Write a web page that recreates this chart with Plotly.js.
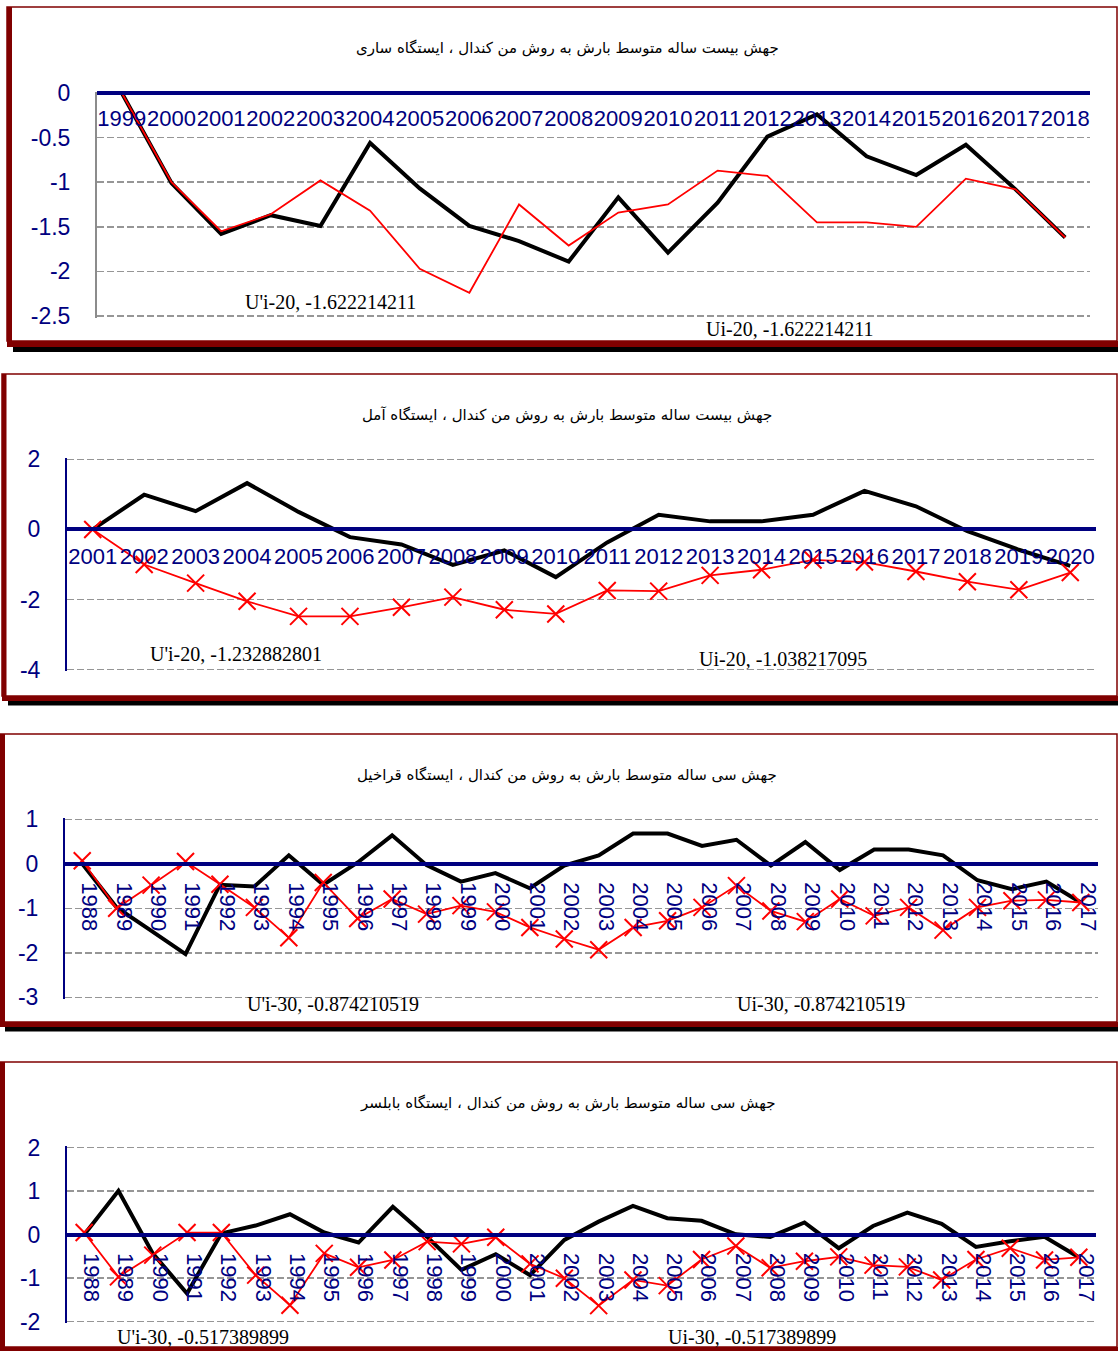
<!DOCTYPE html>
<html>
<head>
<meta charset="utf-8">
<script src="https://cdn.plot.ly/plotly-3.0.1.min.js"></script>
<style>html,body{margin:0;padding:0;background:#fff;}#chart{width:1118px;height:1351px;}</style>
</head>
<body>
<div id="chart"></div>
<script>
// ---------- DATA ----------
const titleSari = "جهش بیست ساله متوسط بارش به روش من کندال ، ایستگاه ساری";
const titleAmol = "جهش بیست ساله متوسط بارش به روش من کندال ، ایستگاه آمل";
const titleGharakheil = "جهش سی ساله متوسط بارش به روش من کندال ، ایستگاه قراخیل";
const titleBabolsar = "جهش سی ساله متوسط بارش به روش من کندال ، ایستگاه بابلسر";

const yearsSari = ["1999","2000","2001","2002","2003","2004","2005","2006","2007","2008","2009","2010","2011","2012","2013","2014","2015","2016","2017","2018"];
const sariUi = [0, -1.01, -1.58, -1.37, -1.49, -0.56, -1.07, -1.49, -1.66, -1.89, -1.17, -1.79, -1.23, -0.49, -0.24, -0.71, -0.92, -0.58, -1.08, -1.62];
const sariUpi = [0, -1.0, -1.55, -1.36, -0.98, -1.32, -1.97, -2.24, -1.25, -1.71, -1.34, -1.25, -0.87, -0.93, -1.45, -1.45, -1.50, -0.96, -1.08, -1.62];
const sariLabels = ["U'i-20, -1.622214211", "Ui-20, -1.622214211"];
const sariTickVals = [0, -0.5, -1, -1.5, -2, -2.5];
const sariTickText = ["0", "-0.5", "-1", "-1.5", "-2", "-2.5"];

const yearsAmol = ["2001","2002","2003","2004","2005","2006","2007","2008","2009","2010","2011","2012","2013","2014","2015","2016","2017","2018","2019","2020"];
const amolUi = [0, 0.99, 0.52, 1.32, 0.50, -0.22, -0.43, -1.01, -0.60, -1.36, -0.37, 0.42, 0.23, 0.23, 0.42, 1.10, 0.66, -0.05, -0.58, -1.04];
const amolUpi = [0, -1.0, -1.53, -2.05, -2.48, -2.48, -2.22, -1.93, -2.29, -2.41, -1.74, -1.76, -1.31, -1.15, -0.87, -0.93, -1.20, -1.49, -1.72, -1.23];
const amolLabels = ["U'i-20, -1.232882801", "Ui-20, -1.038217095"];
const amolTickVals = [2, 0, -2, -4];
const amolTickText = ["2", "0", "-2", "-4"];

const years30 = ["1988","1989","1990","1991","1992","1993","1994","1995","1996","1997","1998","1999","2000","2001","2002","2003","2004","2005","2006","2007","2008","2009","2010","2011","2012","2013","2014","2015","2016","2017"];
const gharUi = [0, -0.98, -1.5, -2.03, -0.47, -0.51, 0.19, -0.47, 0.03, 0.64, -0.03, -0.40, -0.21, -0.55, -0.04, 0.19, 0.68, 0.68, 0.40, 0.54, -0.04, 0.49, -0.14, 0.32, 0.32, 0.19, -0.37, -0.57, -0.40, -0.87];
const gharUpi = [0.07, -1.0, -0.48, 0.05, -0.46, -0.98, -1.66, -0.42, -1.23, -0.79, -1.13, -0.94, -1.08, -1.43, -1.69, -1.93, -1.43, -1.28, -0.98, -0.49, -1.06, -1.30, -0.79, -1.17, -0.98, -1.49, -0.98, -0.83, -0.81, -0.87];
const gharLabels = ["U'i-30, -0.874210519", "Ui-30, -0.874210519"];
const gharTickVals = [1, 0, -1, -2, -3];
const gharTickText = ["1", "0", "-1", "-2", "-3"];

const babUi = [0, 1.01, -0.43, -1.35, 0.03, 0.21, 0.47, 0.05, -0.18, 0.64, -0.05, -0.81, -0.45, -0.93, -0.12, 0.30, 0.66, 0.38, 0.32, 0.01, -0.05, 0.28, -0.31, 0.20, 0.51, 0.25, -0.28, -0.15, -0.05, -0.52];
const babUpi = [0.05, -0.97, -0.47, 0.05, 0.05, -0.93, -1.62, -0.43, -0.75, -0.58, -0.16, -0.21, -0.06, -0.67, -1.0, -1.63, -1.04, -1.17, -0.57, -0.26, -0.76, -0.61, -0.51, -0.70, -0.74, -1.04, -0.57, -0.31, -0.58, -0.52];
const babLabels = ["U'i-30, -0.517389899", "Ui-30, -0.517389899"];
const babTickVals = [2, 1, 0, -1, -2];
const babTickText = ["2", "1", "0", "-1", "-2"];

// ---------- LAYOUT ----------
const W = 1118, H = 1351;
const px = x => x / W;
const py = y => 1 - y / H;
const NAVY = "#000080", DRED = "#800000";

const panels = [
  {title: titleSari, cats: yearsSari, ui: sariUi, upi: sariUpi, labels: sariLabels, tv: sariTickVals, tt: sariTickText,
   x0: 97, x1: 1090, yTop: 93, yBot: 316, range: [-2.5, 0], angle: 0, markers: false, xStand: 5, xShift: 0,
   yLineColor: "#8c8c8c", titleY: 48, lab1: [330, 302], lab2: [790, 329],
   frame: {l: 7, r: 1117, t: 7, b: 341, lw: 5, bw: 6, sh: 5, shx: 13}},
  {title: titleAmol, cats: yearsAmol, ui: amolUi, upi: amolUpi, labels: amolLabels, tv: amolTickVals, tt: amolTickText,
   x0: 67, x1: 1096, yTop: 459.3, yBot: 669.7, range: [-4, 2], angle: 0, markers: true, xStand: 6, xShift: 0,
   yLineColor: NAVY, titleY: 415, lab1: [236, 654], lab2: [783, 659],
   frame: {l: 2, r: 1117, t: 374, b: 696, lw: 4.5, bw: 5, sh: 4.5, shx: 8}},
  {title: titleGharakheil, cats: years30, ui: gharUi, upi: gharUpi, labels: gharLabels, tv: gharTickVals, tt: gharTickText,
   x0: 65, x1: 1098, yTop: 819.3, yBot: 997.3, range: [-3, 1], angle: 90, markers: true, xStand: 12, xShift: 7,
   yLineColor: NAVY, titleY: 775, lab1: [333, 1004], lab2: [821, 1004],
   frame: {l: 0, r: 1117, t: 734, b: 1022, lw: 5, bw: 5, sh: 4.5, shx: 5}},
  {title: titleBabolsar, cats: years30, ui: babUi, upi: babUpi, labels: babLabels, tv: babTickVals, tt: babTickText,
   x0: 67, x1: 1096, yTop: 1147.7, yBot: 1321.7, range: [-2, 2], angle: 90, markers: true, xStand: 12, xShift: 7,
   yLineColor: NAVY, titleY: 1103, lab1: [203, 1337], lab2: [752, 1337],
   frame: {l: 0, r: 1117, t: 1062, b: 1347, lw: 5, bw: 5, sh: 0, shx: 5}}
];

const traces = [];
const layout = {
  width: W, height: H, margin: {l: 0, r: 0, t: 0, b: 0},
  paper_bgcolor: "#ffffff", plot_bgcolor: "#ffffff",
  showlegend: false, hovermode: false,
  annotations: [], shapes: []
};

panels.forEach((p, i) => {
  const n = i + 1;
  const xa = n === 1 ? "x" : "x" + n;
  const ya = n === 1 ? "y" : "y" + n;
  const xk = n === 1 ? "xaxis" : "xaxis" + n;
  const yk = n === 1 ? "yaxis" : "yaxis" + n;
  // pad the range by ~1.5px so the edge grid lines are drawn
  const span = p.range[1] - p.range[0];
  const eps = span / (p.yBot - p.yTop) * 1.5;
  const r0 = p.range[0] - eps, r1 = p.range[1] + eps;
  const yTopPx = p.yTop - 1.5, yBotPx = p.yBot + 1.5;
  const d0 = py(yBotPx), d1 = py(yTopPx);
  const zeroPos = d0 + (0 - r0) / (r1 - r0) * (d1 - d0);

  traces.push({type: "scatter", mode: "lines", x: p.cats, y: p.ui, xaxis: xa, yaxis: ya,
    line: {color: "#000000", width: 4}, cliponaxis: false});
  traces.push({type: "scatter", mode: p.markers ? "lines+markers" : "lines", x: p.cats, y: p.upi, xaxis: xa, yaxis: ya,
    line: {color: "#ff0000", width: 1.8},
    marker: {symbol: "x-thin", size: 17, line: {color: "#ff0000", width: 2}, color: "#ff0000"},
    cliponaxis: false});

  layout[xk] = {
    domain: [px(p.x0), px(p.x1)], anchor: "free", position: zeroPos,
    type: "category", range: [-0.5, p.cats.length - 0.5],
    tickmode: "linear", tick0: 0, dtick: 1,
    showline: true, linecolor: NAVY, linewidth: 4,
    showgrid: false, zeroline: false, ticks: "",
    tickangle: p.angle, ticklabelstandoff: p.xStand, ticklabelshift: p.xShift,
    tickfont: {family: "Liberation Sans, Arial, sans-serif", size: 22, color: NAVY},
    fixedrange: true, automargin: false
  };
  layout[yk] = {
    domain: [d0, d1], anchor: xa, range: [r0, r1],
    tickmode: "array", tickvals: p.tv, ticktext: p.tt,
    showline: true, linecolor: p.yLineColor, linewidth: 2,
    showgrid: true, gridcolor: "#969696", gridwidth: 1.5, griddash: "7px,3px",
    zeroline: false, ticks: "", ticklabelstandoff: 20,
    tickfont: {family: "Liberation Sans, Arial, sans-serif", size: 23, color: NAVY},
    fixedrange: true, automargin: false
  };

  layout.annotations.push({xref: "paper", yref: "paper", x: 0.5075, y: py(p.titleY),
    xanchor: "center", yanchor: "middle", showarrow: false, text: p.title,
    font: {family: "DejaVu Sans, Noto Sans, sans-serif", size: 15, color: "#000"}});
  layout.annotations.push({xref: "paper", yref: "paper", x: px(p.lab1[0]), y: py(p.lab1[1]),
    xanchor: "center", yanchor: "middle", showarrow: false, text: p.labels[0],
    font: {family: "Liberation Serif, Times New Roman, serif", size: 20, color: "#000"}});
  layout.annotations.push({xref: "paper", yref: "paper", x: px(p.lab2[0]), y: py(p.lab2[1]),
    xanchor: "center", yanchor: "middle", showarrow: false, text: p.labels[1],
    font: {family: "Liberation Serif, Times New Roman, serif", size: 20, color: "#000"}});

  const f = p.frame;
  layout.shapes.push({type: "rect", xref: "paper", yref: "paper", x0: px(f.l), x1: px(f.r), y0: py(f.b), y1: py(f.t),
    line: {color: DRED, width: 1.5}, fillcolor: "rgba(0,0,0,0)", layer: "above"});
  layout.shapes.push({type: "rect", xref: "paper", yref: "paper", x0: px(f.l), x1: px(f.l + f.lw), y0: py(f.b + f.bw), y1: py(f.t),
    line: {width: 0}, fillcolor: DRED, layer: "above"});
  layout.shapes.push({type: "rect", xref: "paper", yref: "paper", x0: px(f.l), x1: px(f.r + 1), y0: py(f.b + f.bw), y1: py(f.b),
    line: {width: 0}, fillcolor: DRED, layer: "above"});
  if (f.sh > 0) {
    layout.shapes.push({type: "rect", xref: "paper", yref: "paper", x0: px(f.shx), x1: px(W), y0: py(f.b + f.bw + f.sh), y1: py(f.b + f.bw),
      line: {width: 0}, fillcolor: "#000000", layer: "above"});
  }
});

Plotly.newPlot("chart", traces, layout, {staticPlot: true, displayModeBar: false});
</script>
</body>
</html>
